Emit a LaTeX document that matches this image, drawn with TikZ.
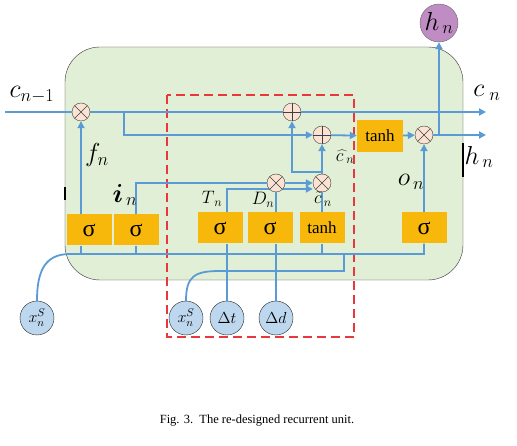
\RequirePackage{fix-cm}
\documentclass[tikz,border=0pt]{standalone}
\usepackage{fontspec}
\usepackage{bm}
\setmainfont{Liberation Serif}
\usetikzlibrary{arrows.meta}
\definecolor{cellgreen}{HTML}{E1EFD6}
\definecolor{gateorange}{HTML}{F7B70B}
\definecolor{flowblue}{HTML}{5B9BD5}
\definecolor{opfill}{HTML}{FBE3D3}
\definecolor{inblue}{HTML}{BDD7EE}
\definecolor{hpurple}{HTML}{BF8DC4}
\definecolor{dashred}{HTML}{E8383D}
\begin{document}
\begin{tikzpicture}[
  x=1pt, y=-1pt,
  gate/.style={fill=gateorange, inner sep=0pt, minimum width=45pt, minimum height=31pt, font=\fontsize{24}{24}\selectfont},
  tgate/.style={gate, font=\fontsize{17}{17}\selectfont},
  opnode/.style={circle, draw=black!75, fill=opfill, thin, inner sep=0pt, minimum size=18pt},
  mulnode/.style={opnode, path picture={\draw[black!75] (path picture bounding box.north west) -- (path picture bounding box.south east) (path picture bounding box.north east) -- (path picture bounding box.south west);}},
  addnode/.style={opnode, path picture={\draw[black!75] (path picture bounding box.north) -- (path picture bounding box.south) (path picture bounding box.east) -- (path picture bounding box.west);}},
  innode/.style={circle, draw=black!85, fill=inblue, thin, inner sep=0pt, minimum size=34pt, font=\fontsize{16}{16}\selectfont},
  flow/.style={draw=flowblue, line width=1.8pt},
  arr/.style={flow, -{Triangle[length=7pt,width=7pt]}},
  lbl/.style={font=\fontsize{26}{26}\selectfont},
  slbl/.style={font=\fontsize{18}{18}\selectfont}
]
  \useasboundingbox (0,0) rectangle (517,446);

  % celda y zona nueva
  \draw[fill=cellgreen, draw=black!80, rounded corners=35pt] (65,47) rectangle (463,280);
  \draw[line width=2pt] (65,187) -- (65,200) (463,143) -- (463,177);
  \draw[draw=dashred, line width=1.4pt, dash pattern=on 9pt off 5pt] (167,95) rectangle (354,337);

  % operadores y puertas
  \node[mulnode] (fmul) at (81,112) {};
  \node[addnode] (addc) at (292,112) {};
  \node[addnode] (addh) at (322,135) {};
  \node[tgate, minimum width=46pt, minimum height=32pt] (tanhc) at (380,136) {tanh};
  \node[mulnode] (omul) at (424,135) {};
  \node[circle, draw=black!60, fill=hpurple, inner sep=0pt, minimum size=38pt, lbl] (hn) at (439,23) {$h_{\,n}$};
  \node[gate] (fg) at (89,230) {σ};
  \node[gate] (ig) at (136,230) {σ};
  \node[gate] (tg) at (220,228) {σ};
  \node[gate] (dg) at (270,228) {σ};
  \node[tgate] (ctg) at (322,228) {tanh};
  \node[gate] (og) at (424,228) {σ};
  \node[mulnode] (cmul) at (322,183) {};
  \node[innode] (xs1) at (37,318) {$x_n^S$};
  \node[innode] (xs2) at (186,318) {$x_n^S$};
  \node[innode] (dt) at (227,318) {$\Delta t$};
  \node[innode] (dd) at (276,318) {$\Delta d$};

  % T_n pasa por debajo de dmul
  \draw[arr] (dt |- tg.north) |- ([yshift=-6pt]cmul.west);
  \node[mulnode] (dmul) at (276,183) {};

  % estado de celda
  \draw[flow] (5,112) -- (fmul);
  \draw[flow] (fmul) -- (addc);
  \draw[arr] (addc) -- (486,112);
  \draw[arr] (124,112) |- (addh);
  \draw[arr] (addh) -- (tanhc);
  \draw[arr] (tanhc) -- (omul);
  \draw[arr] (omul) -- (486,135);
  \draw[arr] (hn |- omul) -- (hn);

  % puertas
  \draw[arr] (fg.north -| fmul) -- (fmul);
  \draw[flow] (ig.north) |- (dmul);
  \draw[flow] (dg.north -| dmul) -- (dmul);
  \draw[arr] (dmul) -- (cmul);
  \draw[flow] (ctg) -- (cmul);
  \draw[arr] (cmul) -- (addh);
  \draw[arr] (322,172) -| (addc);
  \draw[arr] (og) -- (omul);

  % entradas
  \coordinate (bus) at (70,254);
  \coordinate (bus2) at (344,271);
  \draw[flow] (xs1.north) .. controls +(0,-30) and +(-25,0) .. (bus) -- (bus -| og) -- (og.south);
  \draw[flow] (fg.south -| fmul) -- (fmul |- bus);
  \draw[flow] (ig.south) -- (ig |- bus);
  \draw[flow] (ctg.south) -- (ctg |- bus);
  \draw[flow] (xs2.north) .. controls +(0,-25) and +(-25,0) .. (220,271) -- (bus2) -- (bus2 |- bus);
  \draw[flow] (dt) -- (dt |- tg.south);
  \draw[flow] (dd) -- (dd |- dg.south);

  % etiquetas
  \node[lbl] at (32,95) {$c_{n-1}$};
  \node[lbl] at (487,93) {$c_{\;n}$};
  \node[lbl] at (479,157) {$h_{\,n}$};
  \node[lbl] at (97,155) {$f_n$};
  \node[lbl] at (125,195) {$\bm{i}_{\,n}$};
  \node[slbl] at (212,199) {$T_{\,n}$};
  \node[slbl] at (263,200) {$D_n$};
  \node[slbl] at (323,199) {$\tilde{c}_{\,n}$};
  \node[slbl] at (345,157) {$\widehat{c\;}_{\!n}$};
  \node[lbl] at (411,182) {$o_{\,n}$};

  \node[font=\fontsize{12.5}{12.5}\selectfont] at (257,421) {Fig. 3.\ \ The re-designed recurrent unit.};
\end{tikzpicture}
\end{document}
